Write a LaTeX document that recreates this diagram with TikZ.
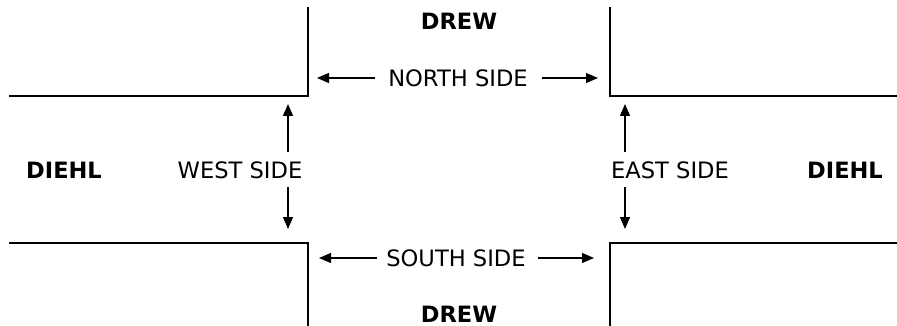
\documentclass[tikz,border=0pt]{standalone}
\usepackage{fontspec}
\setmainfont{DejaVu Sans}
\usetikzlibrary{arrows.meta}
\begin{document}
\begin{tikzpicture}[x=1pt,y=-1pt,
  road/.style={line width=2pt, line cap=rect},
  dim/.style={line width=1.3pt, -{Triangle[length=12pt,width=10pt]}},
  lbl/.style={font=\fontsize{22.6}{26}\selectfont, inner sep=0pt, anchor=center},
  stname/.style={font=\fontsize{22.5}{26}\selectfont\bfseries, inner sep=0pt, anchor=center}]
\useasboundingbox (0,0) rectangle (897,326);
% road edges
\coordinate (tlA) at (10,96);   \coordinate (tlC) at (308,96);  \coordinate (tlB) at (308,8);
\coordinate (trA) at (897,96);  \coordinate (trC) at (610,96);  \coordinate (trB) at (610,8);
\coordinate (blA) at (10,243);  \coordinate (blC) at (308,243); \coordinate (blB) at (308,326);
\coordinate (brA) at (897,243); \coordinate (brC) at (610,243); \coordinate (brB) at (610,326);
\draw[road] (tlA) -- (tlC) -- (tlB);
\draw[road] (trA) -- (trC) -- (trB);
\draw[road] (blA) -- (blC) -- (blB);
\draw[road] (brA) -- (brC) -- (brB);
% names
\node[stname] (drewN) at (459,21) {DREW};
\node[stname] (drewS) at (459,314) {DREW};
\node[stname] (diehlW) at (64,170) {DIEHL};
\node[stname] (diehlE) at (845,170) {DIEHL};
% sides
\node[lbl] (north) at (458,78) {NORTH SIDE};
\node[lbl] (south) at (456,258) {SOUTH SIDE};
\node[lbl] (west) at (240,170) {WEST SIDE};
\node[lbl] (east) at (670,170) {EAST SIDE};
% arrows
\coordinate (nL) at (317,78); \coordinate (nR) at (598,78);
\coordinate (sL) at (319,258); \coordinate (sR) at (594,258);
\coordinate (wU) at (288,104); \coordinate (wD) at (288,229);
\coordinate (eU) at (625,104); \coordinate (eD) at (625,229);
\draw[dim] (375,78) -- (nL);
\draw[dim] (542,78) -- (nR);
\draw[dim] (377,258) -- (sL);
\draw[dim] (538,258) -- (sR);
\draw[dim] (288,152) -- (wU);
\draw[dim] (288,187) -- (wD);
\draw[dim] (625,152) -- (eU);
\draw[dim] (625,187) -- (eD);
\end{tikzpicture}
\end{document}
